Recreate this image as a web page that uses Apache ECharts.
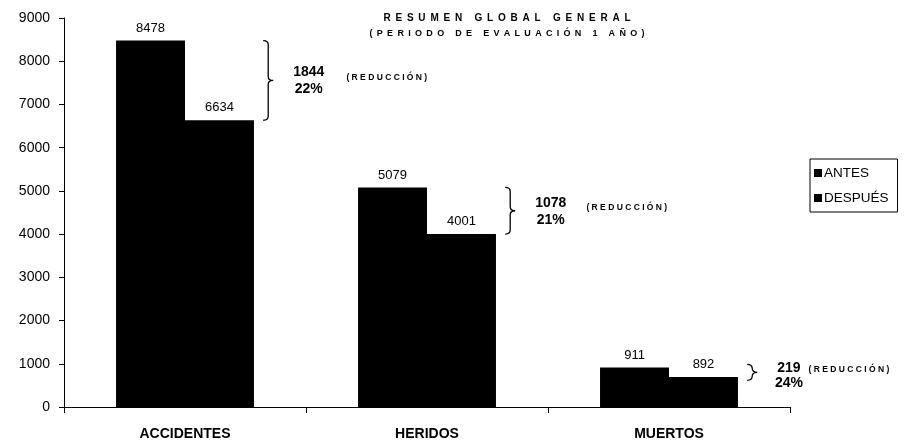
<!DOCTYPE html>
<html>
<head>
<meta charset="utf-8">
<script src="https://cdn.jsdelivr.net/npm/echarts@6/dist/echarts.min.js"></script>
<style>html,body{margin:0;padding:0;background:#fff;}#c{width:918px;height:441px;}</style>
</head>
<body>
<div id="c"></div>
<script>
var categories = ['ACCIDENTES', 'HERIDOS', 'MUERTOS'];
var antes = [8478, 5079, 911];
var despues = [6634, 4001, 692];
var antesLabels = ['8478', '5079', '911'];
var despuesLabels = ['6634', '4001', '892'];
var reduccion = ['1844', '1078', '219'];
var porcentaje = ['22%', '21%', '24%'];
var yTicks = [0, 1000, 2000, 3000, 4000, 5000, 6000, 7000, 8000, 9000];

var FONT = '"Liberation Sans", Arial, sans-serif';
function spaced(s){ return s.split('').join(' '); }
function wide(s){ return s.split('').join(' \u2009'); }
var reductionGap = [24, 22, 10];

var braceData = categories.map(function(c, i){ return [i, antes[i], despues[i], i]; });

var chart = echarts.init(document.getElementById('c'), null, {renderer: 'canvas'});
chart.setOption({
  animation: false,
  backgroundColor: '#fff',
  textStyle: {fontFamily: FONT},
  title: {
    text: '{a|' + wide('RESUMEN GLOBAL GENERAL') + '}\n{b|' + wide('(PERIODO DE EVALUACIÓN 1 AÑO)') + '}',
    left: 502, top: 5, textAlign: 'center',
    textStyle: {
      fontSize: 9, fontWeight: 'bold', color: '#000', lineHeight: 16, fontFamily: FONT,
      rich: {
        a: {fontSize: 10, fontWeight: 'bold', color: '#000', fontFamily: FONT, lineHeight: 16},
        b: {fontSize: 9, fontWeight: 'bold', color: '#000', fontFamily: FONT, lineHeight: 16}
      }
    }
  },
  legend: {
    orient: 'vertical', left: 810, top: 159,
    data: ['ANTES', 'DESPUÉS'],
    itemWidth: 8, itemHeight: 8, itemGap: 11,
    borderColor: '#000', borderWidth: 1, padding: [7, 9, 7, 4],
    textStyle: {fontSize: 13.5, color: '#000', fontFamily: FONT, padding: [0, 0, 0, -3]},
    icon: 'rect'
  },
  grid: {left: 64, right: 128, top: 18, bottom: 32, containLabel: false},
  xAxis: {
    type: 'category', data: categories,
    axisLine: {lineStyle: {color: '#000', width: 1}},
    axisTick: {show: true, length: 6, lineStyle: {color: '#000'}},
    axisLabel: {fontSize: 14, fontWeight: 'bold', color: '#000', margin: 20, fontFamily: FONT}
  },
  yAxis: {
    type: 'value', min: yTicks[0], max: yTicks[yTicks.length - 1], interval: 1000,
    axisLine: {show: true, lineStyle: {color: '#000', width: 1}},
    axisTick: {show: true, length: 5, lineStyle: {color: '#000'}},
    splitLine: {show: false},
    axisLabel: {fontSize: 14, color: '#000', margin: 14, fontFamily: FONT,
      formatter: function(v){ return String(v); }}
  },
  series: [
    {
      name: 'ANTES', type: 'bar', data: antes, barGap: '0%', barCategoryGap: '43%',
      itemStyle: {color: '#000'},
      label: {show: true, position: 'top', distance: 6, fontSize: 13, color: '#000', fontFamily: FONT,
        formatter: function(p){ return antesLabels[p.dataIndex]; }}
    },
    {
      name: 'DESPUÉS', type: 'bar', data: despues,
      itemStyle: {color: '#000'},
      label: {show: true, position: 'top', distance: 6, fontSize: 13, color: '#000', fontFamily: FONT,
        formatter: function(p){ return despuesLabels[p.dataIndex]; }}
    },
    {
      type: 'custom', data: braceData, encode: {x: 0, y: 1}, silent: true, z: 5,
      renderItem: function(params, api){
        var c = api.value(0);
        var i = api.value(3);
        var p1 = api.coord([c, api.value(1)]);
        var p2 = api.coord([c, api.value(2)]);
        var cw = api.size([1, 0])[0];
        var x = p1[0] + cw * 0.286 + 9;
        var y1 = p1[1], y2 = p2[1];
        if (y2 - y1 < 16) { var m0 = (y1 + y2) / 2; y1 = m0 - 8; y2 = m0 + 8; }
        var ym = (y1 + y2) / 2;
        var r = 4;
        var path = 'M' + x + ',' + y1 +
          ' Q' + (x + 5) + ',' + y1 + ' ' + (x + 5) + ',' + (y1 + r) +
          ' L' + (x + 5) + ',' + (ym - r) +
          ' Q' + (x + 5) + ',' + ym + ' ' + (x + 10) + ',' + ym +
          ' Q' + (x + 5) + ',' + ym + ' ' + (x + 5) + ',' + (ym + r) +
          ' L' + (x + 5) + ',' + (y2 - r) +
          ' Q' + (x + 5) + ',' + y2 + ' ' + x + ',' + y2;
        var numLeft = x + 30;
        var numText = reduccion[i];
        var approxW = numText.length * 7.8;
        var big = (api.value(1) - api.value(2)) > 500;
        return {
          type: 'group',
          children: [
            {type: 'path', shape: {pathData: path}, style: {fill: null, stroke: '#000', lineWidth: 1.3}},
            {type: 'text', x: numLeft + approxW / 2, y: big ? ym - 8 : ym - 4,
              style: {text: numText, fontSize: 14, fontWeight: 'bold', fill: '#000', fontFamily: FONT, align: 'center', verticalAlign: 'middle'}},
            {type: 'text', x: numLeft + approxW / 2, y: big ? ym + 9 : ym + 11,
              style: {text: porcentaje[i], fontSize: 14, fontWeight: 'bold', fill: '#000', fontFamily: FONT, align: 'center', verticalAlign: 'middle'}},
            {type: 'text', x: numLeft + approxW + reductionGap[i] - 2, y: ym - 3,
              style: {text: spaced('(REDUCCIÓN)'), fontSize: 8.5, fontWeight: 'bold', fill: '#000', fontFamily: FONT, align: 'left', verticalAlign: 'middle'}}
          ]
        };
      }
    }
  ]
});
</script>
</body>
</html>
